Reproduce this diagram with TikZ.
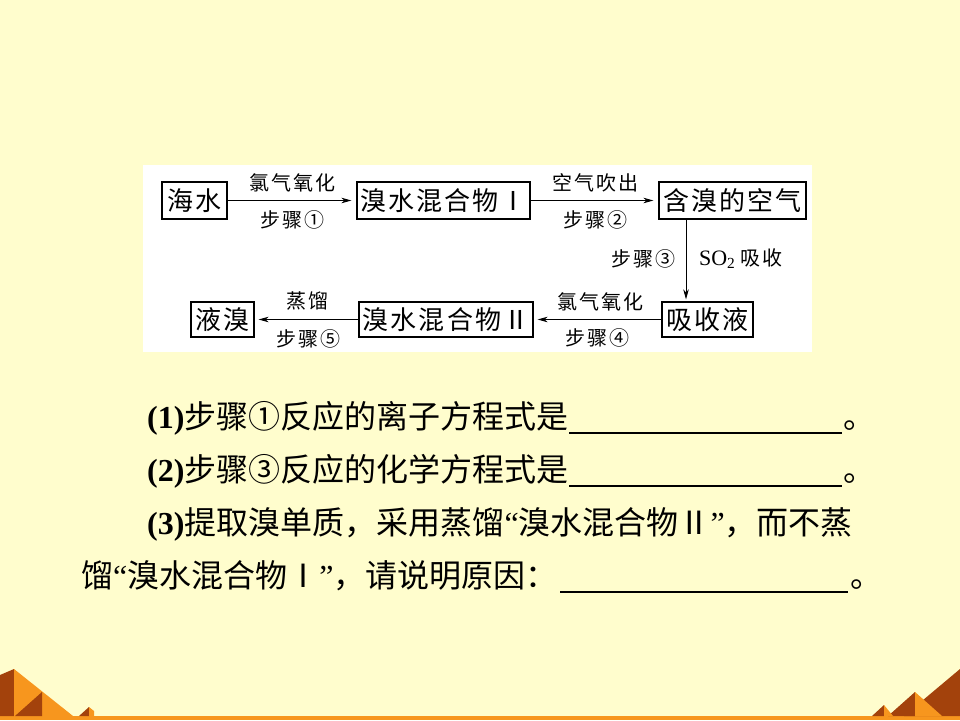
\documentclass[tikz,border=0pt]{standalone}
\usepackage{fontspec}
\setmainfont{Liberation Serif}
\newfontfamily\cjk{Noto Sans CJK SC}
\newfontfamily\cjkbox[LetterSpace=8]{Noto Sans CJK SC}
\newfontfamily\cjklab[LetterSpace=10]{Noto Sans CJK SC}
\usetikzlibrary{arrows.meta}
\definecolor{bgyellow}{HTML}{FFFDCD}
\definecolor{pyrlight}{HTML}{F7961E}
\definecolor{pyrdark}{HTML}{A3420C}
\begin{document}
\begin{tikzpicture}[x=1pt,y=-1pt,
  flowbox/.style={draw=black, line width=1.2pt, inner sep=0pt, anchor=center,
    font=\fontsize{26}{26}\selectfont\cjkbox},
  flowlab/.style={inner sep=0pt, anchor=center, font=\fontsize{20}{20}\selectfont\cjklab},
  flowarrow/.style={line width=0.9pt, -{Stealth[length=10pt,width=5.5pt,inset=3pt]}},
  qtext/.style={inner sep=0pt, anchor=base west, font=\fontsize{32}{32}\selectfont},
  blankline/.style={line width=2pt}
]
\useasboundingbox (0,0) rectangle (960,720);
\fill[bgyellow] (0,0) rectangle (960,720);
% pyramids
\fill[pyrlight] (0,716) rectangle (960,720);
\fill[pyrdark] (0,675) -- (14,669) -- (14,716) -- (0,716) -- cycle;
\fill[pyrlight] (14,669) -- (73,716) -- (14,716) -- cycle;
\fill[pyrdark] (42,692) -- (15,716) -- (42,716) -- cycle;
\fill[pyrdark] (79,716) -- (89,707) -- (89,716) -- cycle;
\fill[pyrlight] (89,707) -- (94,711) -- (94,716) -- (89,716) -- cycle;
\fill[pyrdark] (960,669) -- (904,716) -- (960,716) -- cycle;
\fill[pyrdark] (888,716) -- (915,692) -- (915,716) -- cycle;
\fill[pyrlight] (915,692) -- (942,716) -- (915,716) -- cycle;
\fill[pyrdark] (872,716) -- (884,705) -- (884,716) -- cycle;
\fill[pyrlight] (884,705) -- (893,716) -- (884,716) -- cycle;
% panel
\fill[white] (143,165) rectangle (812,352);
% boxes
\node[flowbox, minimum width=65pt, minimum height=37pt] (sea) at (194.5,200.5) {海水};
\node[flowbox, minimum width=173pt, minimum height=37pt] (mixI) at (443.5,200.5) {溴水混合物Ⅰ};
\node[flowbox, minimum width=147pt, minimum height=37pt] (air) at (732.5,200.5) {含溴的空气};
\node[flowbox, minimum width=91pt, minimum height=35pt] (absorb) at (707.5,319.5) {吸收液};
\node[flowbox, minimum width=174pt, minimum height=35pt] (mixII) at (446,319.5) {溴水混合物Ⅱ};
\node[flowbox, minimum width=63pt, minimum height=35pt] (liquid) at (222.5,319.5) {液溴};
% arrows
\coordinate (vx) at (686,0);
\draw[flowarrow, shorten >=5pt] (sea.east) -- (mixI.west);
\draw[flowarrow, shorten >=5pt] (mixI.east) -- (air.west);
\draw[flowarrow, shorten >=2pt] (air.south -| vx) -- (absorb.north -| vx);
\draw[flowarrow, shorten >=4pt] (absorb.west) -- (mixII.east);
\draw[flowarrow, shorten >=4pt] (mixII.west) -- (liquid.east);
% labels
\node[flowlab] (l1a) at (292,182.5) {氯气氧化};
\node[flowlab] (l1b) at (292,219.5) {步骤①};
\node[flowlab] (l2a) at (595,182.5) {空气吹出};
\node[flowlab] (l2b) at (595,219.5) {步骤②};
\node[flowlab] (l3a) at (643,259) {步骤③};
\node[inner sep=0pt, anchor=center, font=\fontsize{22}{22}\selectfont] (l3b) at (741,259) {SO\textsubscript{2}\ {\fontsize{20}{20}\selectfont\cjklab 吸收}};
\node[flowlab] (l4a) at (600,301.5) {氯气氧化};
\node[flowlab] (l4b) at (597,337.5) {步骤④};
\node[flowlab] (l5a) at (307,301) {蒸馏};
\node[flowlab] (l5b) at (308,339) {步骤⑤};
% questions
\node[qtext] (q1) at (147,428) {\textbf{(1)}{\cjk 步骤①反应的离子方程式是}};
\coordinate (u1s) at (569,433);
\coordinate (u1e) at (842,433);
\draw[blankline] (u1s) -- (u1e);
\node[qtext] (p1) at (843,428) {\cjk 。};
\node[qtext] (q2) at (147,481) {\textbf{(2)}{\cjk 步骤③反应的化学方程式是}};
\coordinate (u2s) at (569,486);
\coordinate (u2e) at (842,486);
\draw[blankline] (u2s) -- (u2e);
\node[qtext] (p2) at (843,481) {\cjk 。};
\node[qtext] (q3) at (147,534) {\textbf{(3)}{\cjk 提取溴单质，采用蒸馏}“{\cjk 溴水混合物Ⅱ}”{\cjk ，而不蒸}};
\node[qtext] (q4) at (81,587) {{\cjk 馏}“{\cjk 溴水混合物Ⅰ}”{\cjk ，请说明原因：}};
\coordinate (u4s) at (560,592);
\coordinate (u4e) at (848,592);
\draw[blankline] (u4s) -- (u4e);
\node[qtext] (p4) at (850,587) {\cjk 。};
\end{tikzpicture}
\end{document}
